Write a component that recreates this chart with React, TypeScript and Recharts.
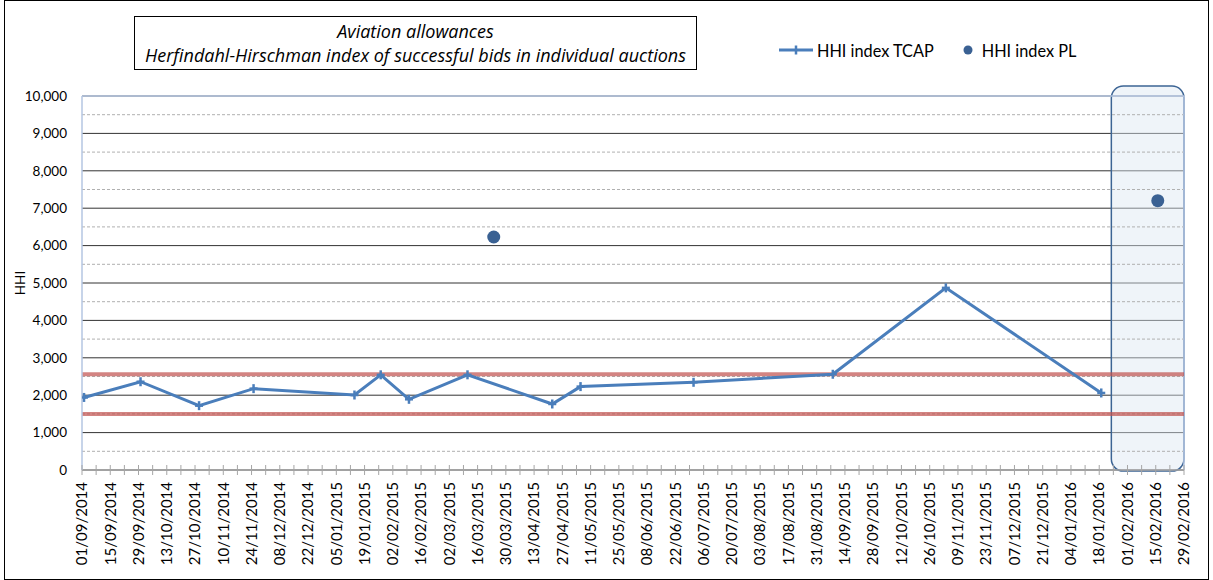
import React from 'react';
import {
    ComposedChart,
    Line,
    Scatter,
    XAxis,
    YAxis,
    CartesianGrid,
    ReferenceLine,
    ReferenceArea,
} from 'recharts';

// auction dates (dd/mm/yyyy) and HHI values
const tcapDates = [
    '02/09/2014', '30/09/2014', '29/10/2014', '25/11/2014', '14/01/2015', '27/01/2015', '10/02/2015',
    '11/03/2015', '22/04/2015', '06/05/2015', '01/07/2015', '08/09/2015', '03/11/2015', '19/01/2016',
];
const tcapValues = [1940, 2360, 1720, 2175, 2005, 2545, 1890, 2545, 1765, 2230, 2345, 2560, 4870, 2060];

const plDates = ['24/03/2015', '16/02/2016'];
const plValues = [6230, 7200];

const tickLabels = [
    '01/09/2014', '15/09/2014', '29/09/2014', '13/10/2014', '27/10/2014', '10/11/2014', '24/11/2014',
    '08/12/2014', '22/12/2014', '05/01/2015', '19/01/2015', '02/02/2015', '16/02/2015', '02/03/2015',
    '16/03/2015', '30/03/2015', '13/04/2015', '27/04/2015', '11/05/2015', '25/05/2015', '08/06/2015',
    '22/06/2015', '06/07/2015', '20/07/2015', '03/08/2015', '17/08/2015', '31/08/2015', '14/09/2015',
    '28/09/2015', '12/10/2015', '26/10/2015', '09/11/2015', '23/11/2015', '07/12/2015', '21/12/2015',
    '04/01/2016', '18/01/2016', '01/02/2016', '15/02/2016', '29/02/2016',
];

const yTicks = [0, 1000, 2000, 3000, 4000, 5000, 6000, 7000, 8000, 9000, 10000];
const minorGrid = [500, 1500, 2500, 3500, 4500, 5500, 6500, 7500, 8500, 9500];
const thresholds = [1500, 2560];

// shaded (rounded) box around the last auctions
const boxFrom = '24/01/2016';
const boxTo = '29/02/2016';
const boxRange = [-30, 10270];

const FONT = 'Lato, "Open Sans", sans-serif';
const TITLE_FONT = '"Open Sans", Lato, sans-serif';
const LINE_BLUE = '#4a7ebb';
const DOT_BLUE = '#3a6193';

const toTime = (s: string) => {
    const [d, m, y] = s.split('/').map(Number);
    return Date.UTC(y, m - 1, d);
};

const DAY = 24 * 3600 * 1000;

const majorTicks = tickLabels.map(toTime);
const labelByTime = new Map<number, string>();
tickLabels.forEach((l, i) => labelByTime.set(majorTicks[i], l));

// majors every 2 weeks, a minor tick half way
const allTicks: number[] = [];
majorTicks.forEach((t, i) => {
    allTicks.push(t);
    if (i < majorTicks.length - 1) allTicks.push(t + 7 * DAY);
});

const tcapData = tcapDates.map((d, i) => ({ t: toTime(d), value: tcapValues[i] }));
const plData = plDates.map((d, i) => ({ t: toTime(d), value: plValues[i] }));

const DateTick = (props: any) => {
    const { x, y, payload } = props;
    const label = labelByTime.get(payload.value);
    return (
        <g>
            <line x1={x} x2={x} y1={y - 5} y2={y + 5} stroke="#a6a6a6" strokeWidth={1} />
            {label && (
                <text
                    x={x}
                    y={y + 12}
                    transform={`rotate(-90 ${x} ${y + 12})`}
                    textAnchor="end"
                    dy="0.35em"
                    fontSize={15}
                    fontFamily={FONT}
                    fill="#000"
                >
                    {label}
                </text>
            )}
        </g>
    );
};

const PlusDot = (props: any) => {
    const { cx, cy, index } = props;
    if (cx == null || cy == null) return <g key={`p${index}`} />;
    return (
        <g key={`p${index}`}>
            <line x1={cx - 4} x2={cx + 4} y1={cy} y2={cy} stroke={LINE_BLUE} strokeWidth={2.5} />
            <line x1={cx} x2={cx} y1={cy - 4.5} y2={cy + 4.5} stroke={LINE_BLUE} strokeWidth={2.5} />
        </g>
    );
};

const RoundBox = (props: any) => {
    const { x, y, width, height } = props;
    return (
        <rect
            x={x}
            y={y}
            width={width}
            height={height}
            rx={12}
            ry={12}
            fill="#dce6f2"
            fillOpacity={0.45}
            stroke="#3c6494"
            strokeWidth={1.5}
        />
    );
};

export default function App() {
    return (
        <div style={{ position: 'absolute', left: 0, top: 0, width: 1213, height: 580, background: '#fff', fontFamily: FONT }}>
            <ComposedChart
                width={1213}
                height={580}
                margin={{ top: 96, right: 29, left: 0, bottom: 0 }}
            >
                <CartesianGrid horizontal vertical={false} stroke="#333" strokeWidth={1} />
                {minorGrid.map((v) => (
                    <ReferenceLine key={v} y={v} stroke="#b0b0b0" strokeDasharray="3 2" strokeWidth={1} />
                ))}
                <ReferenceLine y={10000} stroke="#b4c6e2" strokeWidth={1.5} />
                <ReferenceLine x={toTime(boxTo)} stroke="#b4c6e2" strokeWidth={1.5} />

                <XAxis
                    dataKey="t"
                    type="number"
                    domain={[majorTicks[0], majorTicks[majorTicks.length - 1]]}
                    ticks={allTicks}
                    interval={0}
                    tick={<DateTick />}
                    tickLine={false}
                    tickSize={0}
                    tickMargin={0}
                    axisLine={{ stroke: '#a6a6a6', strokeWidth: 1.5 }}
                    height={110}
                    allowDataOverflow
                />
                <YAxis
                    type="number"
                    domain={[0, 10000]}
                    ticks={yTicks}
                    interval={0}
                    width={82}
                    tickLine={false}
                    tickSize={0}
                    tickMargin={15}
                    axisLine={{ stroke: '#b4c6e2', strokeWidth: 1.5 }}
                    tick={{ fill: '#000', fontSize: 13.5, fontFamily: FONT }}
                    tickFormatter={(v: number) => v.toLocaleString('en-US')}
                    label={{
                        content: (p: any) => {
                            const vb = p.viewBox || { y: 96, height: 374 };
                            const cy = vb.y + vb.height / 2;
                            return (
                                <text
                                    x={20}
                                    y={cy}
                                    transform={`rotate(-90 20 ${cy})`}
                                    textAnchor="middle"
                                    dy="0.35em"
                                    fontSize={13.5}
                                    fontFamily={FONT}
                                    fill="#000"
                                >
                                    HHI
                                </text>
                            );
                        },
                    }}
                />

                {thresholds.map((v) => (
                    <ReferenceLine key={`th${v}`} y={v} stroke="#c0504d" strokeOpacity={0.7} strokeWidth={4} />
                ))}

                <ReferenceArea
                    x1={toTime(boxFrom)}
                    x2={toTime(boxTo)}
                    y1={boxRange[0]}
                    y2={boxRange[1]}
                    ifOverflow="visible"
                    shape={<RoundBox />}
                />

                <Line
                    data={tcapData}
                    dataKey="value"
                    type="linear"
                    stroke={LINE_BLUE}
                    strokeWidth={3}
                    dot={PlusDot}
                    activeDot={false}
                    isAnimationActive={false}
                />
                <Scatter
                    data={plData}
                    dataKey="value"
                    fill={DOT_BLUE}
                    shape={(p: any) => <circle cx={p.cx} cy={p.cy} r={6.5} fill={DOT_BLUE} />}
                    isAnimationActive={false}
                />
            </ComposedChart>

            {/* title box */}
            <div
                style={{
                    position: 'absolute',
                    left: 134,
                    top: 16,
                    width: 561,
                    height: 50,
                    border: '1.5px solid #000',
                    boxSizing: 'content-box',
                    textAlign: 'center',
                    fontFamily: TITLE_FONT,
                    fontStyle: 'italic',
                    fontSize: 18,
                    lineHeight: '24px',
                    paddingTop: 2,
                    color: '#000',
                    whiteSpace: 'nowrap',
                }}
            >
                <div>Aviation allowances</div>
                <div>Herfindahl-Hirschman index of successful bids in individual auctions</div>
            </div>

            {/* legend */}
            <div style={{ position: 'absolute', left: 779, top: 39, height: 22, display: 'flex', alignItems: 'center', fontSize: 16.3, color: '#000' }}>
                <svg width={36} height={12} style={{ marginRight: 2 }}>
                    <line x1={0} x2={34} y1={6} y2={6} stroke={LINE_BLUE} strokeWidth={3} />
                    <line x1={17} x2={17} y1={1.5} y2={10.5} stroke={LINE_BLUE} strokeWidth={2.5} />
                </svg>
                <span>HHI index TCAP</span>
                <svg width={14} height={12} style={{ marginLeft: 27, marginRight: 7 }}>
                    <circle cx={7} cy={6} r={4.5} fill={DOT_BLUE} />
                </svg>
                <span>HHI index PL</span>
            </div>

            {/* outer frame */}
            <div style={{ position: 'absolute', left: 4, top: 0, width: 1203, height: 578, border: '1px solid #000', pointerEvents: 'none' }} />
        </div>
    );
}
